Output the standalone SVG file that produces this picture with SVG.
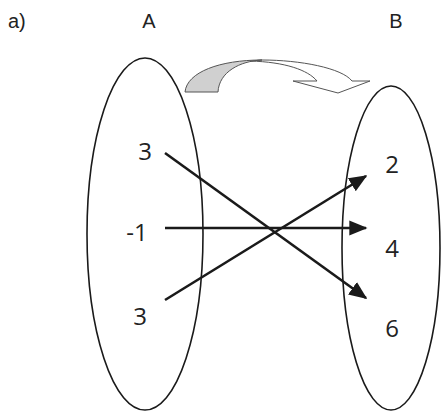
<svg xmlns="http://www.w3.org/2000/svg" width="442" height="411" viewBox="0 0 442 411">
<defs>
<style>
.lbl{font-family:"Liberation Sans",Arial,sans-serif;font-size:20px;fill:#222}
.num{font-family:"Open Sans","Noto Sans",sans-serif;font-size:24px;fill:#222}
.set{fill:none;stroke:#1a1a1a;stroke-width:1.6}
.map{stroke:#1a1a1a;stroke-width:2.6;fill:none;marker-end:url(#ah)}
.band{stroke:#555;stroke-width:1;stroke-linejoin:miter}
</style>
<marker id="ah" viewBox="0 0 12 10" refX="11" refY="5" markerWidth="7" markerHeight="6" markerUnits="strokeWidth" orient="auto">
<path d="M0,0 L12,5 L0,10 Z" fill="#1a1a1a"/>
</marker>
</defs>
<rect width="442" height="411" fill="#fff"/>
<text class="lbl" x="8" y="28">a)</text>
<text class="lbl" x="149" y="28" text-anchor="middle">A</text>
<text class="lbl" x="396" y="28" text-anchor="middle">B</text>

<g id="setA">
<ellipse class="set" cx="145" cy="234" rx="58" ry="176"/>
<text class="num" x="145" y="160" text-anchor="middle">3</text>
<text class="num" x="137" y="241" text-anchor="middle">-1</text>
<text class="num" x="140" y="325" text-anchor="middle">3</text>
</g>
<g id="setB">
<ellipse class="set" cx="391" cy="248" rx="49" ry="162"/>
<text class="num" x="392" y="173" text-anchor="middle">2</text>
<text class="num" x="392" y="257" text-anchor="middle">4</text>
<text class="num" x="392" y="337" text-anchor="middle">6</text>
</g>
<g id="curvedArrow">
<path class="band" fill="#fff" d="M262,60 C300,60 342,68 352,81 L370,81 L338,93 L293,81 L317,81 C308,70 285,62 250,61 Z"/>
<path class="band" fill="#d0d0d0" d="M185,92 C187,72 220,60 262,60 C240,61 219,72 218,92 Z"/>
</g>
<g id="connectors">
<line class="map" x1="165" y1="153" x2="366" y2="298"/>
<line class="map" x1="165" y1="228" x2="366" y2="228"/>
<line class="map" x1="165" y1="300" x2="366" y2="176"/>
</g>
</svg>
